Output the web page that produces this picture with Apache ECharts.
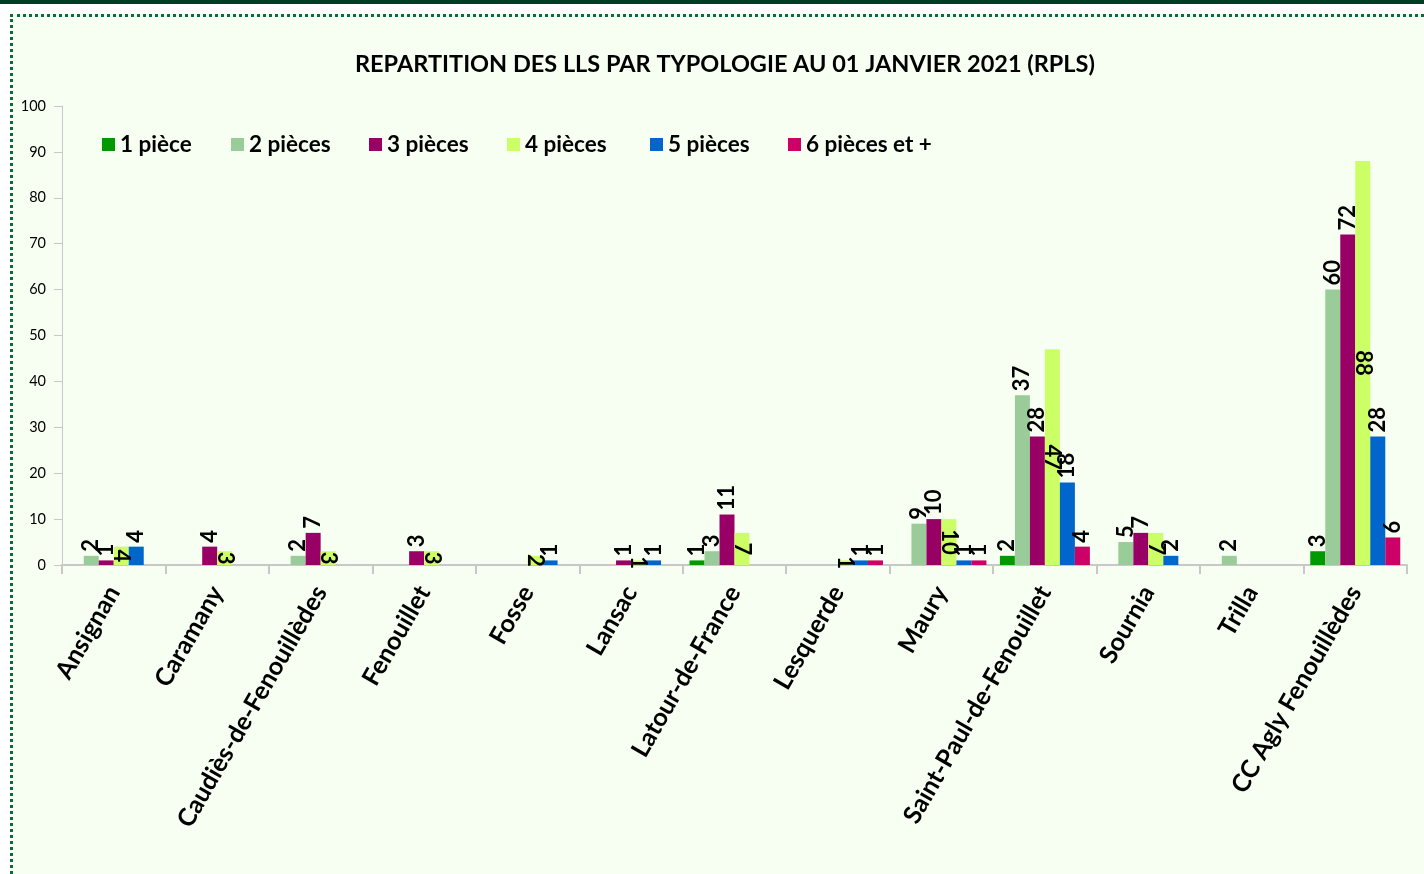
<!DOCTYPE html>
<html>
<head>
<meta charset="utf-8">
<script src="https://cdn.jsdelivr.net/npm/echarts@6/dist/echarts.min.js"></script>
<style>
  html, body { margin: 0; padding: 0; width: 1424px; height: 874px; overflow: hidden; background: #ffffff; }
  #topbar { position: absolute; left: 0; top: 0; width: 1424px; height: 4px; background: #003d22; }
  #frame { position: absolute; left: 10px; top: 14px; width: 1430px; height: 880px; border-top: 3px dotted #0b6b3a; border-left: 3px dotted #0b6b3a; background: #f7fff2; }
  #chart { position: absolute; left: 0; top: 0; width: 1424px; height: 874px; }
</style>
</head>
<body>
<div id="topbar"></div>
<div id="frame"></div>
<div id="chart"></div>
<script>
const categories = ["Ansignan", "Caramany", "Caudiès-de-Fenouillèdes", "Fenouillet", "Fosse", "Lansac", "Latour-de-France", "Lesquerde", "Maury", "Saint-Paul-de-Fenouillet", "Sournia", "Trilla", "CC Agly Fenouillèdes"];
const seriesNames = ["1 pièce", "2 pièces", "3 pièces", "4 pièces", "5 pièces", "6 pièces et +"];
const p1 = [null, null, null, null, null, null, 1, null, null, 2, null, null, 3];
const p2 = [2, null, 2, null, null, null, 3, null, 9, 37, 5, 2, 60];
const p3 = [1, 4, 7, 3, null, 1, 11, null, 10, 28, 7, null, 72];
const p4 = [4, 3, 3, 3, 2, 1, 7, 1, 10, 47, 7, null, 88];
const p5 = [4, null, null, null, 1, 1, null, 1, 1, 18, 2, null, 28];
const p6 = [null, null, null, null, null, null, null, 1, 1, 4, null, null, 6];
const colors = ["#009900", "#99cc99", "#990066", "#ccff66", "#0066cc", "#cc0066"];
const titleText = "REPARTITION DES LLS PAR TYPOLOGIE AU 01 JANVIER 2021 (RPLS)";

const FONT = "Lato";
const values = [p1, p2, p3, p4, p5, p6];

const labelTop = { show: true, position: 'top', rotate: 90, align: 'left', verticalAlign: 'middle', distance: 4, color: '#000', fontFamily: FONT, fontWeight: 'bold', fontSize: 22 };
const labelInside = { show: true, position: 'inside', rotate: -90, align: 'center', verticalAlign: 'middle', color: '#000', fontFamily: FONT, fontWeight: 'bold', fontSize: 22 };

const series = seriesNames.map((n, i) => ({
  name: n, type: 'bar', data: values[i], barWidth: 15, barGap: '0%',
  itemStyle: { color: colors[i] },
  label: i === 3 ? labelInside : labelTop,
  emphasis: { disabled: true }
}));

const legendLefts = [97, 226, 364, 502, 645, 783];
const legends = seriesNames.map((n, i) => ({
  data: [n], left: legendLefts[i], top: 128, itemWidth: 13, itemHeight: 13, icon: 'rect', itemGap: 8,
  textStyle: { fontFamily: FONT, fontWeight: 'bold', fontSize: 22.5, color: '#000' }
}));

const chart = echarts.init(document.getElementById('chart'), null, { renderer: 'canvas' });
chart.setOption({
  animation: false,
  backgroundColor: 'transparent',
  color: colors,
  title: { text: titleText, left: 350, top: 47, textStyle: { fontFamily: FONT, fontWeight: 'bold', fontSize: 23.5, color: '#000' } },
  legend: legends,
  grid: { left: 62, right: 17, top: 106, bottom: 309, containLabel: false },
  xAxis: {
    type: 'category', data: categories,
    axisLine: { lineStyle: { color: '#c8c8c8', width: 2 } },
    axisTick: { show: true, length: 9, lineStyle: { color: '#c8c8c8', width: 2 } },
    axisLabel: { rotate: 60, interval: 0, margin: 23, color: '#000', fontFamily: FONT, fontWeight: 'bold', fontSize: 25 }
  },
  yAxis: {
    type: 'value', min: 0, max: 100, interval: 10,
    axisLine: { show: true, lineStyle: { color: '#c8c8c8', width: 1 } },
    axisTick: { show: true, inside: false, length: 8, lineStyle: { color: '#c8c8c8' } },
    splitLine: { show: false },
    axisLabel: { margin: 16, color: '#000', fontFamily: FONT, fontSize: 14.5 }
  },
  series: series
});
</script>
</body>
</html>
